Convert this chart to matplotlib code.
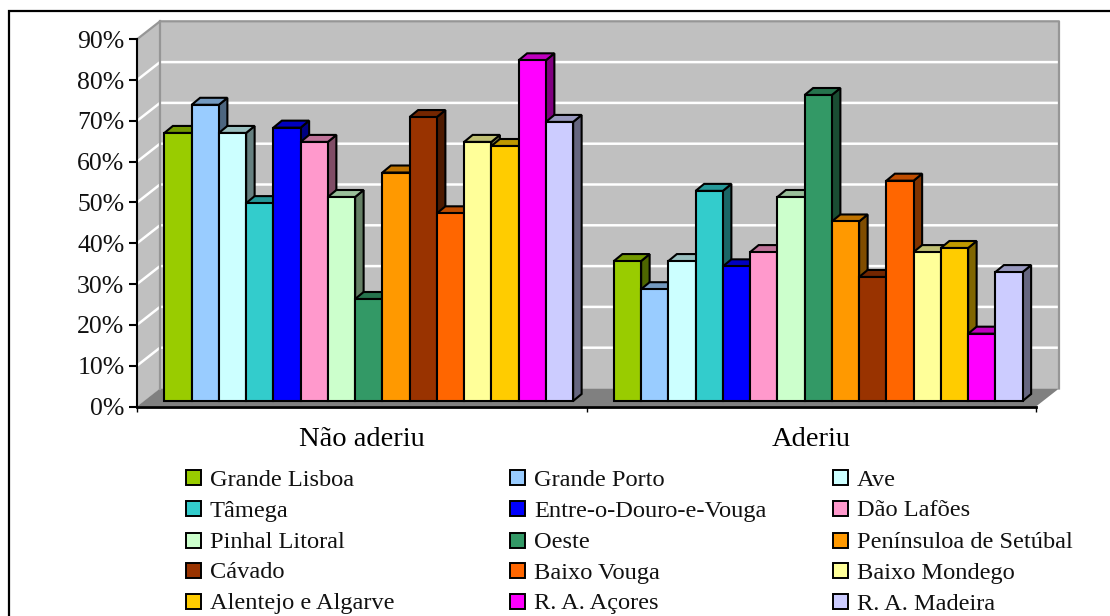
import matplotlib
matplotlib.use("Agg")
import matplotlib.pyplot as plt
from matplotlib.patches import Polygon, Rectangle
from matplotlib.lines import Line2D
from matplotlib.colors import to_rgb

plt.rcParams['font.family'] = ['Liberation Serif', 'DejaVu Serif']

groups = ["Não aderiu", "Aderiu"]
regions = ["Grande Lisboa", "Grande Porto", "Ave", "Tâmega", "Entre-o-Douro-e-Vouga",
           "Dão Lafões", "Pinhal Litoral", "Oeste", "Penínsuloa de Setúbal", "Cávado",
           "Baixo Vouga", "Baixo Mondego", "Alentejo e Algarve", "R. A. Açores", "R. A. Madeira"]
nao_aderiu = [65.7, 72.6, 65.7, 48.5, 67.0, 63.5, 50.0, 25.0, 56.0, 69.6, 46.0, 63.5, 62.5, 83.5, 68.4]
aderiu = [34.3, 27.4, 34.3, 51.5, 33.0, 36.5, 50.0, 75.0, 44.0, 30.4, 54.0, 36.5, 37.5, 16.5, 31.6]
colors = ["#99CC00", "#99CCFF", "#CCFFFF", "#33CCCC", "#0000FF", "#FF99CC", "#CCFFCC", "#339966",
          "#FF9900", "#993300", "#FF6600", "#FFFF99", "#FFCC00", "#FF00FF", "#CCCCFF"]
yticks = list(range(0, 100, 10))

W, H = 1110, 616
fig = plt.figure(figsize=(W / 100, H / 100), dpi=100)
fig.patch.set_facecolor("white")

# chart frame: only its left and top sides fall inside the figure
fig.add_artist(Line2D([9 / W, 9 / W, 1], [0, 1 - 11 / H, 1 - 11 / H], transform=fig.transFigure,
                      color="black", lw=1.6, solid_joinstyle="miter"))

# the axes spans the front plane of the 3D box
L, R, B, T = 137, 1036, 406.5, 39.3
ax = fig.add_axes([L / W, 1 - B / H, (R - L) / W, (B - T) / H])
ax.set_xlim(0, 2)
ax.set_ylim(0, 90)
ax.patch.set_visible(False)

ux = 2 / (R - L)           # data units per pixel
uy = 90 / (B - T)
box_dx, box_dy = 23 * ux, 18 * uy
bar_dx, bar_dy = 8.5 * ux, 7 * uy
inset_x, inset_y = 7 * ux, 5.5 * uy
bar_w = 27.25 * ux


def shade(c, f):
    return tuple(v * f for v in to_rgb(c))


def poly(pts, fc, ec="none", lw=0, z=1):
    ax.add_patch(Polygon(pts, closed=True, fc=fc, ec=ec, lw=lw, zorder=z, clip_on=False, joinstyle="miter"))


# walls and floor
poly([(0, 0), (box_dx, box_dy), (2 + box_dx, box_dy), (2 + box_dx, 90 + box_dy), (box_dx, 90 + box_dy)],
     "#C0C0C0", z=0.5)
poly([(0, 0), (box_dx, box_dy), (box_dx, 90 + box_dy), (0, 90)], "#C0C0C0", z=0.5)
poly([(0, 0), (2, 0), (2 + box_dx, box_dy), (box_dx, box_dy)], "#808080", z=0.6)

for v in yticks[1:-1]:
    ax.plot([0, box_dx, 2 + box_dx], [v, v + box_dy, v + box_dy], color="white", lw=1.8, zorder=0.7, clip_on=False)

wall_edge = "#969696"
ax.plot([0, box_dx, 2 + box_dx, 2 + box_dx], [90, 90 + box_dy, 90 + box_dy, box_dy],
        color=wall_edge, lw=1.6, zorder=0.8, clip_on=False)
ax.plot([box_dx, box_dx], [box_dy, 90 + box_dy], color=wall_edge, lw=1.6, zorder=0.8, clip_on=False)
ax.plot([0, 0], [0, 90], color=wall_edge, lw=0.8, zorder=0.8, clip_on=False)

# bars, drawn left to right so that each one overlaps the previous side face
n = len(regions)
for g, series in enumerate([nao_aderiu, aderiu]):
    start = g + 0.5 - n * bar_w / 2 + inset_x
    for i, (val, col) in enumerate(zip(series, colors)):
        x0 = start + i * bar_w
        x1 = x0 + bar_w
        y0 = inset_y
        y1 = inset_y + val
        z = 2 + i * 0.01
        poly([(x1, y0), (x1 + bar_dx, y0 + bar_dy), (x1 + bar_dx, y1 + bar_dy), (x1, y1)],
             shade(col, 0.5), "black", 1.5, z)
        poly([(x0, y1), (x1, y1), (x1 + bar_dx, y1 + bar_dy), (x0 + bar_dx, y1 + bar_dy)],
             shade(col, 0.75), "black", 1.5, z)
        poly([(x0, y0), (x1, y0), (x1, y1), (x0, y1)], col, "black", 1.5, z)

# axes
for s in ("top", "right"):
    ax.spines[s].set_visible(False)
ax.spines["left"].set_linewidth(1.5)
ax.spines["bottom"].set_linewidth(2.0)
ax.set_yticks(yticks)
ax.set_yticklabels([f"{v}%" for v in yticks], fontsize=18.5, color="#111111")
ax.set_xticks([0, 1, 2])
ax.set_xticklabels([])
ax.set_xticks([0.5, 1.5], minor=True)
ax.set_xticklabels(groups, minor=True, fontsize=20.5)
ax.tick_params(axis="x", which="minor", length=0, pad=15)
ax.tick_params(axis="x", which="major", length=3.5, width=1.0)
ax.tick_params(axis="y", length=6, width=1.5, pad=3, direction="out")

# legend in three columns, read row by row
col_x = [186, 510, 833]
row_y = [477.5, 508.5, 540, 570.5, 601.5]
sw = 15
for i, (name, col) in enumerate(zip(regions, colors)):
    x = col_x[i % 3]
    y = row_y[i // 3]
    fig.add_artist(Rectangle((x / W, 1 - (y + sw / 2) / H), sw / W, sw / H, transform=fig.transFigure,
                             fc=col, ec="black", lw=1.4))
    fig.text((x + 24) / W, 1 - (y + 8) / H, name, fontsize=17.6, va="baseline", ha="left", color="#111111")

fig.savefig("out.png", dpi=100)
